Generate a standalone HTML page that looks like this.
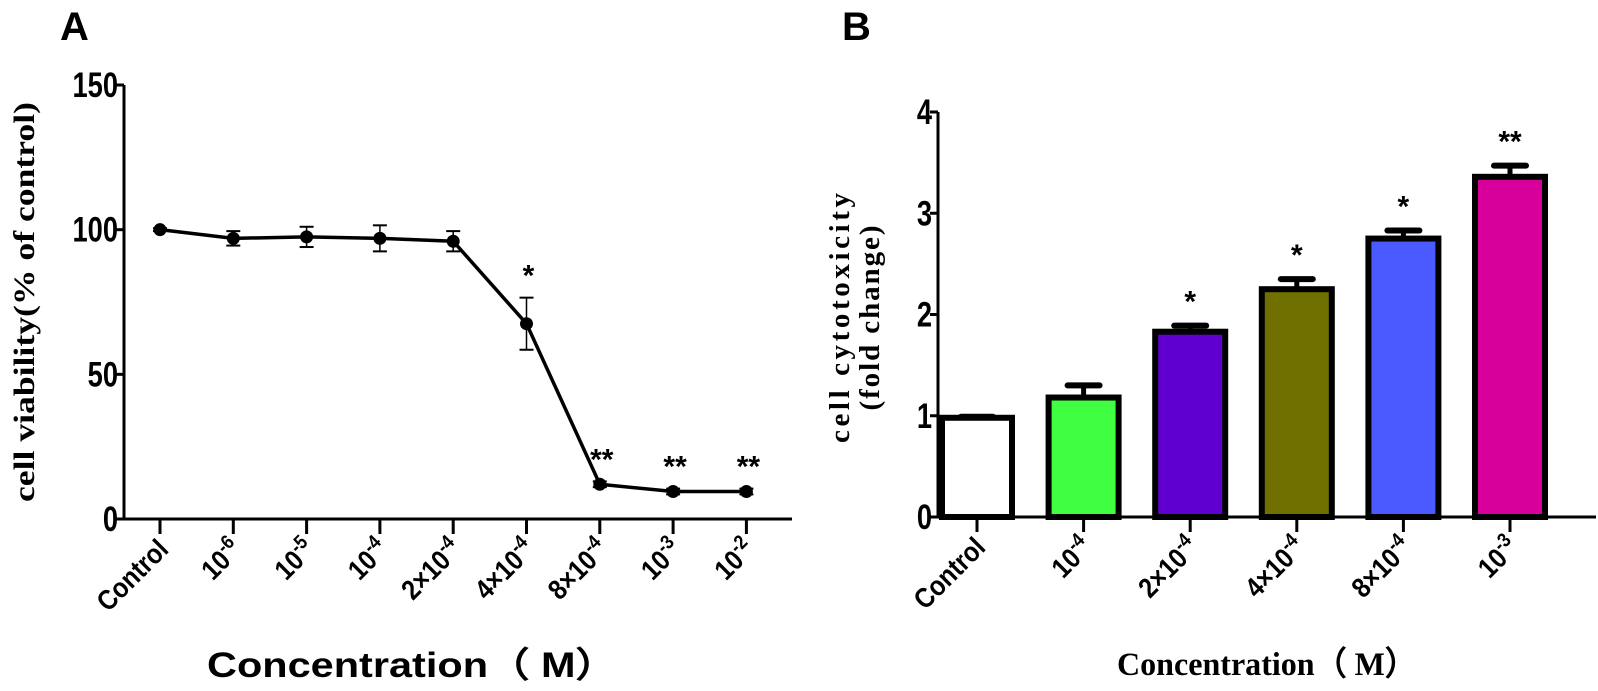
<!DOCTYPE html>
<html><head><meta charset="utf-8"><style>
html,body{margin:0;padding:0;background:#fff;}
svg{display:block;}
.sans{font-family:"Liberation Sans",Arial,sans-serif;font-weight:bold;}
.wide{font-family:"Liberation Sans",Arial,sans-serif;font-weight:bold;}
.serif{font-family:"Liberation Serif","Times New Roman",serif;font-weight:bold;}
</style></head><body>
<svg id="fig" width="1598" height="691" viewBox="0 0 1598 691" xmlns="http://www.w3.org/2000/svg">
<text x="60" y="40" class="wide" font-size="40">A</text>
<text x="842" y="40" class="wide" font-size="40">B</text>
<g id="gA"></g>
<g id="gB"></g>
</svg>
<script>
const catsA = [["Control",""],["10","-6"],["10","-5"],["10","-4"],["2×10","-4"],["4×10","-4"],["8×10","-4"],["10","-3"],["10","-2"]];
const valsA = [100, 97, 97.5, 97, 96, 67.5, 12, 9.5, 9.5];
const errA = [0.5, 2.5, 3.5, 4.5, 3.5, 9, 1, 1, 1];
const sigA = ["", "", "", "", "", "*", "**", "**", "**"];
const ticksA = [0, 50, 100, 150];

const catsB = [["Control",""],["10","-4"],["2×10","-4"],["4×10","-4"],["8×10","-4"],["10","-3"]];
const valsB = [0.98, 1.18, 1.83, 2.25, 2.75, 3.36];
const errB = [0.01, 0.12, 0.06, 0.1, 0.08, 0.11];
const sigB = ["", "", "*", "*", "*", "**"];
const colorsB = ["#ffffff", "#40ff40", "#6000d0", "#707000", "#4a5aff", "#d8009a"];
const ticksB = [0, 1, 2, 3, 4];

const NS = "http://www.w3.org/2000/svg";
function mk(parent, tag, attrs, txt){
  const e = document.createElementNS(NS, tag);
  for (const k in attrs) e.setAttribute(k, attrs[k]);
  if (txt !== undefined) e.textContent = txt;
  parent.appendChild(e);
  return e;
}
function catLabel(g, x, y, c){
  const t = mk(g, "text", {x:0, y:0, "text-anchor":"end", "font-size":"28", class:"wide", transform:"translate("+x+" "+y+") rotate(-45) scale(0.88 1)"});
  
  
  mk(t, "tspan", {}, c[0]);
  if (c[1]) { mk(t, "tspan", {dy:"-11", "font-size":"20"}, c[1]); }
  return t;
}
function yLabel(g, x, y, v){
  const t = mk(g, "text", {x:0, y:0, "text-anchor":"end", "font-size":"35", class:"sans", transform:"translate("+x+" "+y+") scale(0.78 1)"}, v);
  
  
}

// Panel A
(function(){
  const g = document.getElementById("gA");
  const x0 = 124, x1 = 792, yTop = 85, yBot = 519;
  const ys = v => yBot - (v/150)*(yBot-yTop);
  const xs = i => 160 + i*73.3;
  const ya = mk(g, "line", {x1:x0, y1:yTop, x2:x0, y2:yBot, stroke:"#000", "stroke-width":"3"});
  
  
  const xa = mk(g, "line", {x1:x0-10, y1:yBot, x2:x1, y2:yBot, stroke:"#000", "stroke-width":"3"});
  
  
  ticksA.forEach(v=>{
    mk(g, "line", {x1:x0-8, y1:ys(v), x2:x0, y2:ys(v), stroke:"#000", "stroke-width":"3"});
    yLabel(g, x0-6, ys(v)+12, v);
  });
  catsA.forEach((c,i)=>{
    mk(g, "line", {x1:xs(i), y1:yBot, x2:xs(i), y2:yBot+15, stroke:"#000", "stroke-width":"3"});
    catLabel(g, xs(i)+10, yBot+32, c);
  });
  let d = "";
  valsA.forEach((v,i)=>{ d += (i?"L":"M")+xs(i)+" "+ys(v)+" "; });
  const ln = mk(g, "path", {d:d, fill:"none", stroke:"#000", "stroke-width":"3.5"});
  
  
  valsA.forEach((v,i)=>{
    const x = xs(i);
    const eg = mk(g, "g", {});
    
    
    mk(eg, "line", {x1:x, y1:ys(v+errA[i]), x2:x, y2:ys(v-errA[i]), stroke:"#000", "stroke-width":"1.5"});
    mk(eg, "line", {x1:x-7, y1:ys(v+errA[i]), x2:x+7, y2:ys(v+errA[i]), stroke:"#000", "stroke-width":"2"});
    mk(eg, "line", {x1:x-7, y1:ys(v-errA[i]), x2:x+7, y2:ys(v-errA[i]), stroke:"#000", "stroke-width":"2"});
    const p = mk(g, "circle", {cx:x, cy:ys(v), r:6.5, fill:"#000"});
    
    
    if (sigA[i]) {
      const s = mk(g, "text", {x:x+2, y:ys(v+errA[i])-12, "text-anchor":"middle", "font-size":"30", class:"sans", "font-weight":"normal"}, sigA[i]);
      
      
    }
  });
  const yt = mk(g, "text", {x:0, y:0, "text-anchor":"middle", "font-size":"30", class:"serif", textLength:"400", lengthAdjust:"spacingAndGlyphs", transform:"translate(34 302) rotate(-90)"}, "cell viability(% of control)");
  
  
  const xt = mk(g, "text", {x:412, y:677, "text-anchor":"middle", "font-size":"35", class:"sans", textLength:"410", lengthAdjust:"spacingAndGlyphs"}, "Concentration（ M）");
  
  
})();

// Panel B
(function(){
  const g = document.getElementById("gB");
  const x0 = 938, x1 = 1596, yTop = 112, yBot = 517;
  const ys = v => yBot - (v/4)*(yBot-yTop);
  const xs = i => 977 + i*106.6;
  const bw = 70;
  valsB.forEach((v,i)=>{
    const x = xs(i);
    const eg = mk(g, "g", {});
    
    
    mk(eg, "line", {x1:x, y1:ys(v), x2:x, y2:ys(v+errB[i]), stroke:"#000", "stroke-width":"5"});
    mk(eg, "line", {x1:x-16, y1:ys(v+errB[i]), x2:x+16, y2:ys(v+errB[i]), stroke:"#000", "stroke-width":"6", "stroke-linecap":"round"});
    const r = mk(g, "rect", {x:x-bw/2, y:ys(v), width:bw, height:yBot-ys(v), fill:colorsB[i], stroke:"#000", "stroke-width":"6"});
    
    
    if (sigB[i]) {
      const s = mk(g, "text", {x:x, y:ys(v+errB[i])-14, "text-anchor":"middle", "font-size":"30", class:"sans", "font-weight":"normal"}, sigB[i]);
      
      
    }
  });
  const ya = mk(g, "line", {x1:x0, y1:yTop, x2:x0, y2:yBot, stroke:"#000", "stroke-width":"3"});
  
  
  const xa = mk(g, "line", {x1:x0-10, y1:yBot, x2:x1, y2:yBot, stroke:"#000", "stroke-width":"3"});
  
  
  ticksB.forEach(v=>{
    mk(g, "line", {x1:x0-8, y1:ys(v), x2:x0, y2:ys(v), stroke:"#000", "stroke-width":"3"});
    yLabel(g, x0-6, ys(v)+12, v);
  });
  catsB.forEach((c,i)=>{
    mk(g, "line", {x1:xs(i), y1:yBot, x2:xs(i), y2:yBot+15, stroke:"#000", "stroke-width":"3"});
    catLabel(g, xs(i)+10, yBot+32, c);
  });
  const yt = mk(g, "text", {"text-anchor":"middle", "font-size":"29", class:"serif"});
  
  
  yt.setAttribute('transform', 'translate(849 318) rotate(-90)');
  mk(yt, "tspan", {x:0, y:0, textLength:"250", lengthAdjust:"spacing"}, "cell  cytotoxicity");
  mk(yt, "tspan", {x:0, y:30, textLength:"185", lengthAdjust:"spacing"}, "(fold change)");
  const xt = mk(g, "text", {x:1267, y:675, "text-anchor":"middle", "font-size":"33", class:"serif", textLength:"300", lengthAdjust:"spacingAndGlyphs"}, "Concentration（ M）");
  
  
})();
</script>
</body></html>
